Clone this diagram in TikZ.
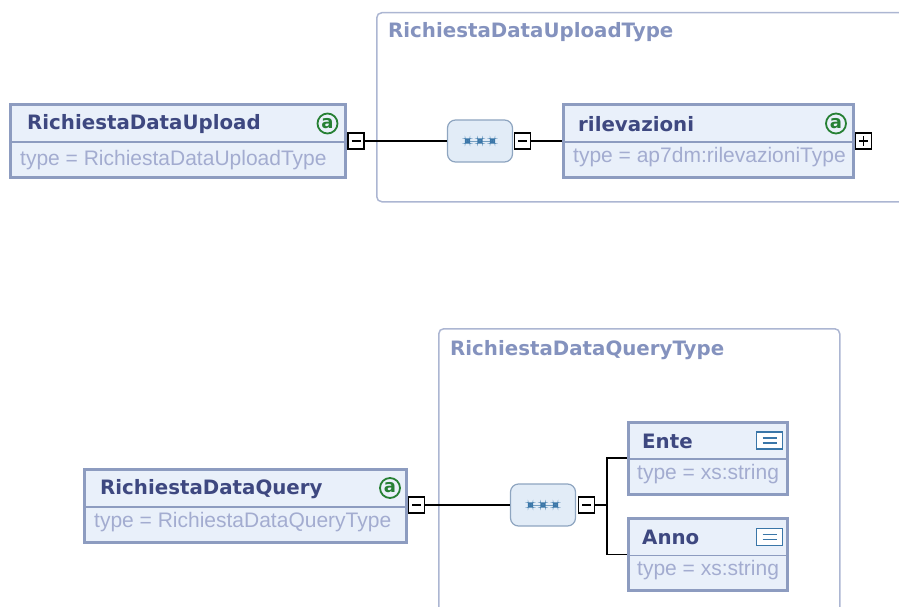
\documentclass[tikz,border=0pt]{standalone}
\usepackage{fontspec}
\setmainfont{DejaVu Sans}
\newfontfamily\typefont{Liberation Sans}
\usetikzlibrary{positioning}
\definecolor{boxline}{RGB}{141,156,192}
\definecolor{boxfill}{RGB}{233,240,250}
\definecolor{titleblue}{RGB}{62,72,128}
\definecolor{typegray}{RGB}{163,172,208}
\definecolor{grpline}{RGB}{172,182,210}
\definecolor{grptitle}{RGB}{132,146,190}
\definecolor{seqline}{RGB}{142,165,192}
\definecolor{seqfill}{RGB}{226,236,247}
\definecolor{attrgreen}{RGB}{38,128,52}
\definecolor{iconblue}{RGB}{58,118,168}
\tikzset{
    elem/.style={draw=boxline, line width=3pt, fill=boxfill, inner sep=0pt}, % element box
    divider/.style={draw=boxline, line width=1.5pt}, % line between name and type
    title/.style={font=\bfseries\fontsize{19.8}{22}\selectfont, text=titleblue, inner sep=0pt, anchor=west},
    typetext/.style={font=\typefont\fontsize{21}{24}\selectfont, text=typegray, inner sep=0pt, anchor=west},
    group/.style={draw=grpline, line width=1.5pt, rounded corners=5pt, inner sep=0pt}, % complex type frame
    grouptitle/.style={font=\bfseries\fontsize{19.8}{22}\selectfont, text=grptitle, inner sep=0pt, anchor=west},
    attr/.style={circle, draw=attrgreen, line width=1.8pt, text=attrgreen, fill=boxfill,
        font=\bfseries\fontsize{18}{18}\selectfont, minimum size=20pt, inner sep=0pt}, % the @ mark
    simple/.style={draw=iconblue, line width=1.4pt, fill=white, minimum width=26pt, minimum height=17pt,
        inner sep=0pt, path picture={
            \draw[iconblue, line width=1.2pt] ([xshift=-7pt,yshift=-2.5pt]path picture bounding box.center) -- ++(14pt,0);
            \draw[iconblue, line width=1.2pt] ([xshift=-7pt,yshift=2.5pt]path picture bounding box.center) -- ++(14pt,0);}},
    minusbox/.style={draw=black, line width=1.7pt, fill=white, minimum size=16pt, inner sep=0pt,
        path picture={\draw[line width=1.7pt] ([xshift=-4.5pt]path picture bounding box.center) -- ++(9pt,0);}},
    plusbox/.style={minusbox, path picture={
            \draw[line width=1.7pt] ([xshift=-4.5pt]path picture bounding box.center) -- ++(9pt,0);
            \draw[line width=1.7pt] ([yshift=-4.5pt]path picture bounding box.center) -- ++(0,9pt);}},
    seq/.style={draw=seqline, line width=1.2pt, fill=seqfill, rounded corners=8pt,
        minimum width=65pt, minimum height=42pt, inner sep=0pt, path picture={
            \draw[iconblue!70, line width=0.7pt] ([xshift=-12pt]path picture bounding box.center) -- ++(24pt,0);
            \foreach \dx in {-12.5,0,12.5}
                \fill[iconblue] ([xshift=\dx pt]path picture bounding box.center)
                    +(-2.6pt,-2.6pt) rectangle +(2.6pt,2.6pt);}}, % sequence compositor
    conn/.style={draw=black, line width=1.8pt}, % connectors
}
\begin{document}
\begin{tikzpicture}[x=1pt, y=-1pt]
    \useasboundingbox (0,0) rectangle (899,607);
    \clip (0,0) rectangle (899,607);

    % RichiestaDataUpload
    \node[group, minimum width=530pt, minimum height=189pt, anchor=north west] (uploadgrp) at (376,12) {};
    \node[grouptitle] (uploadgrpname) at (388,32) {RichiestaDataUploadType};
    \node[elem, minimum width=335pt, minimum height=73pt] (upload) at (178,141) {};
    \draw[divider] ([yshift=-1pt]upload.west) -- ([yshift=-1pt]upload.east);
    \node[title] (uploadname) at (27,124) {RichiestaDataUpload};
    \node[typetext] (uploadtype) at (20,160) {type = RichiestaDataUploadType};
    \node[attr] (uploadat) at (327.5,123.5) {a};
    \node[minusbox] (uploadm) at (356,141) {};
    \node[seq] (uploadseq) at (480,141) {};
    \node[minusbox] (uploadseqm) at (522.5,141) {};
    \node[elem, minimum width=290pt, minimum height=73pt] (rilev) at (708.5,141) {};
    \draw[divider] ([yshift=-1pt]rilev.west) -- ([yshift=-1pt]rilev.east);
    \node[title] (rilevname) at (578,124) {rilevazioni};
    \node[typetext] (rilevtype) at (573,157) {type = ap7dm:rilevazioniType};
    \node[attr] (rilevat) at (836,123.5) {a};
    \node[plusbox] (rilevp) at (863.5,141) {};
    \draw[conn] (uploadm) -- (uploadseq);
    \draw[conn] (uploadseqm) -- (rilev);

    % RichiestaDataQuery
    \node[group, minimum width=401pt, minimum height=300pt, anchor=north west] (querygrp) at (438,328) {};
    \node[grouptitle] (querygrpname) at (450,350) {RichiestaDataQueryType};
    \node[elem, minimum width=322pt, minimum height=73pt] (query) at (245.5,505.5) {};
    \draw[divider] ([yshift=-1.5pt]query.west) -- ([yshift=-1.5pt]query.east);
    \node[title] (queryname) at (100,489) {RichiestaDataQuery};
    \node[typetext] (querytype) at (94,522) {type = RichiestaDataQueryType};
    \node[attr] (queryat) at (390,488) {a};
    \node[minusbox] (querym) at (416.5,505) {};
    \node[seq] (queryseq) at (543,505) {};
    \node[minusbox] (queryseqm) at (586.5,505) {};
    \node[elem, minimum width=159pt, minimum height=72pt] (ente) at (708,458) {};
    \draw[divider] ([yshift=-1pt]ente.west) -- ([yshift=-1pt]ente.east);
    \node[title] (entename) at (642,441) {Ente};
    \node[typetext] (entetype) at (637,474) {type = xs:string};
    \node[simple] (entes) at (769.5,440.5) {};
    \node[elem, minimum width=159pt, minimum height=72pt] (anno) at (708,554.5) {};
    \draw[divider] ([yshift=-1pt]anno.west) -- ([yshift=-1pt]anno.east);
    \node[title] (annoname) at (642,537) {Anno};
    \node[typetext] (annotype) at (637,570) {type = xs:string};
    \node[simple] (annos) at (769.5,537) {};
    \draw[conn] (querym) -- (queryseq);
    \draw[conn] (queryseqm.east) -- ++(12,0) coordinate (querybr) |- (ente.west);
    \draw[conn] (querybr) |- (anno.west);
\end{tikzpicture}
\end{document}
